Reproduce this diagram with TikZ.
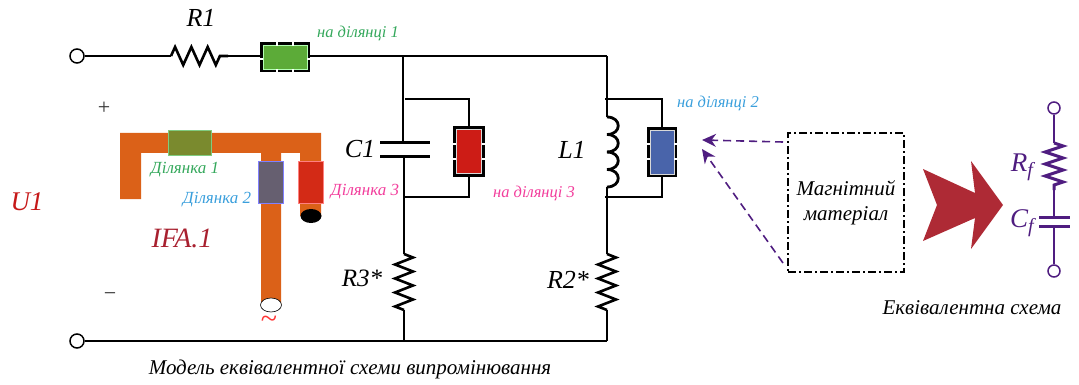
\documentclass[tikz,border=0pt]{standalone}
\usepackage{fontspec}
\setmainfont{Liberation Serif}
\usetikzlibrary{arrows.meta,decorations.pathmorphing,shapes.geometric}
\definecolor{antorange}{HTML}{DB6118}
\definecolor{grnlab}{HTML}{35A85C}
\definecolor{blulab}{HTML}{3A9FDC}
\definecolor{pnklab}{HTML}{F23E9C}
\definecolor{darkred}{HTML}{A8202F}
\definecolor{arrowred}{HTML}{AE2A35}
\definecolor{violetline}{HTML}{4F1D80}
\def\fsz#1{\fontsize{#1}{#1}\selectfont\itshape}
\tikzset{
	wire/.style={line width=1.5pt},
	term/.style={circle, draw, line width=1.5pt, fill=white, minimum size=14pt, inner sep=0pt},
	zig/.style={line width=2.6pt, decorate, decoration={zigzag, segment length=#1, amplitude=9pt}},
	plate/.style={line width=3pt},
	frame/.style={draw=black, fill=white, line width=3pt, inner sep=0pt},
	gap/.style={white, line width=1.3pt},
	lab/.style={inner sep=0pt, font=\fsz{#1}},
	dasharrow/.style={violetline, line width=1.6pt, dash pattern=on 8pt off 5pt, -{Stealth[length=14pt,width=13pt]}},
}
\begin{document}
\begin{tikzpicture}[x=1pt, y=-1pt]
		%%%%% START %%%%%
		\useasboundingbox (0, 0) rectangle (1079, 385);
		
		% antenna
		\fill[antorange] (120, 133) -- (321, 133) -- (321, 216) -- (300, 216) -- (300, 153) -- (281, 153) -- (281, 305) -- (261, 305) -- (261, 153) -- (141, 153) -- (141, 199) -- (120, 199) -- cycle;
		\node[draw=black, fill=white, ellipse, line width=0.6pt, minimum width=21pt, minimum height=14pt, inner sep=0pt] (feed) at (271, 305) {};
		\node[fill=black, ellipse, minimum width=21pt, minimum height=14pt, inner sep=0pt] (shortpin) at (311, 216) {};
		\fill[draw=green!60!black!50, line width=0.8pt, fill={rgb,255:red,122;green,138;blue,46}] (168, 130.5) rectangle (211, 155);
		\fill[draw=blue!50!white, line width=0.8pt, fill={rgb,255:red,102;green,95;blue,112}] (258.5, 161) rectangle (283, 203);
		\fill[draw=red!50!white, line width=0.8pt, fill={rgb,255:red,211;green,42;blue,22}] (298.5, 161) rectangle (323, 203);
		
		\node[lab=17, text=grnlab] (sec1) at (185, 170) {Ділянка 1};
		\node[lab=17, text=blulab] (sec2) at (217, 199.5) {Ділянка 2};
		\node[lab=17, text=pnklab] (sec3) at (365, 192) {Ділянка 3};
		\node[lab=28, text=darkred] (ifa) at (182, 238) {IFA.1};
		\node[lab=27, text=red!75!black!90] (uone) at (27, 202) {U1};
		\node[inner sep=0pt, font=\fsz{22}\upshape, text=black!80] (plus) at (104, 108) {+};
		\node[inner sep=0pt, font=\fsz{22}\upshape, text=black!80] (minus) at (110, 297) {−};
		\node[inner sep=0pt, font=\fsz{30}\upshape, text=red!80] (tilde) at (269, 322) {\textasciitilde};
		
		% main circuit
		\node[term] (inA) at (77, 56) {};
		\node[term] (inB) at (77, 341) {};
		\coordinate (ronea) at (171, 56);
		\coordinate (roneb) at (228, 56);
		\coordinate (topC) at (403, 56);
		\coordinate (topL) at (607, 56);
		\coordinate (botC) at (404, 341);
		\coordinate (botL) at (607, 341);
		
		\node[frame, minimum width=47pt, minimum height=27pt] (boxG) at (285, 57.5) {};
		\node[frame, minimum width=29pt, minimum height=47pt] (boxR) at (469, 151.5) {};
		\node[frame, minimum width=27pt, minimum height=47pt] (boxB) at (662, 152) {};
		\node[inner sep=0pt, fill={rgb,255:red,92;green,171;blue,56}, draw=white!70!green, line width=0.6pt, minimum width=44pt, minimum height=24pt] (patchG) at (boxG) {};
		\node[inner sep=0pt, fill={rgb,255:red,205;green,28;blue,22}, draw=white!70!gray, line width=0.6pt, minimum width=25pt, minimum height=44pt] (patchR) at (boxR) {};
		\node[inner sep=0pt, fill={rgb,255:red,73;green,100;blue,170}, draw=white!70!gray, line width=0.6pt, minimum width=24pt, minimum height=44pt] (patchB) at (boxB) {};
		\foreach \x in {277, 293} {
			\draw[gap] (\x, 41) -- (\x, 46);
			\draw[gap] (\x, 69) -- (\x, 74);
		}
		\foreach \y in {144, 159} {
			\draw[gap] (451, \y) -- (456, \y);
			\draw[gap] (482, \y) -- (487, \y);
			\draw[gap] (645, \y) -- (650, \y);
			\draw[gap] (674, \y) -- (679, \y);
		}
		\draw[gap] (258, 59) -- (263, 59);
		\draw[gap] (307, 59) -- (312, 59);
		
		\draw[wire] (inA) -- (ronea);
		\draw[zig=16.3pt] (ronea) -- (roneb);
		\draw[wire] (roneb) -- (roneb -| boxG.west);
		\draw[wire] (topC -| boxG.east) -- (topC) -- (topL);
		\draw[wire] (inB) -- (botC) -- (botL);
		
		% C1 branch
		\coordinate (cplA) at (403, 143);
		\coordinate (cplB) at (404, 157);
		\coordinate (rthreea) at (404, 254);
		\coordinate (rthreeb) at (404, 310);
		\coordinate (tapCa) at (405, 99);
		\coordinate (tapCb) at (404, 197);
		\draw[wire] (topC) -- (cplA);
		\draw[plate] (380, 143) -- (430, 143);
		\draw[plate] (380, 157) -- (430, 157);
		\draw[wire] (cplB) -- (rthreea);
		\draw[zig=14pt] (rthreea) -- (rthreeb);
		\draw[wire] (rthreeb) -- (botC);
		\draw[wire] (tapCa) -| (boxR);
		\draw[wire] (tapCb) -| (boxR);
		
		% L1 branch
		\coordinate (lonea) at (607, 117);
		\coordinate (loneb) at (607, 187);
		\coordinate (rtwoa) at (607, 254);
		\coordinate (rtwob) at (607, 310);
		\coordinate (tapLa) at (605, 99);
		\coordinate (tapLb) at (605, 197);
		\draw[wire] (topL) -- (lonea);
		\foreach \y in {117, 134.5, 152, 169.5} {
			\draw[line width=2.8pt] (607, \y) .. controls (622, \y) and (622, {\y+17.5}) .. (607, {\y+17.5});
		}
		\draw[wire] (loneb) -- (rtwoa);
		\draw[zig=14pt] (rtwoa) -- (rtwob);
		\draw[wire] (rtwob) -- (botL);
		\draw[wire] (tapLa) -| (boxB);
		\draw[wire] (tapLb) -| (boxB);
		
		\node[lab=26] (rone) at (201, 18) {R1};
		\node[lab=26] (cone) at (360, 149) {C1};
		\node[lab=26] (lone) at (572, 150) {L1};
		\node[lab=25] (rthree) at (362, 278) {R3*};
		\node[lab=26] (rtwo) at (568, 280) {R2*};
		\node[lab=16.5, text=grnlab] (onsecA) at (358, 33) {на ділянці 1};
		\node[lab=16.5, text=blulab] (onsecB) at (718, 103) {на ділянці 2};
		\node[lab=16.5, text=pnklab] (onsecC) at (534, 193) {на ділянці 3};
		\node[lab=21] (capmodel) at (350, 369) {Модель еквівалентної схеми випромінювання};
		
		% magnetic material
		\node[draw=black, line width=1.6pt, dash pattern=on 8pt off 3pt on 2pt off 3pt, minimum width=116pt, minimum height=139pt, inner sep=0pt, align=center, font=\fsz{21}] (magnet) at (846, 202.5) {Магнітний\\[4pt]матеріал};
		\coordinate (fromA) at (783, 142);
		\coordinate (fromB) at (783, 263);
		\coordinate (tipA) at (702, 140);
		\coordinate (tipB) at (702, 149);
		\draw[dasharrow] (fromA) -- (tipA);
		\draw[dasharrow] (fromB) -- (tipB);
		
		\fill[arrowred] (923, 169) -- (975, 193) -- (971, 161) -- (1003, 205) -- (971, 249) -- (975, 218) -- (923, 241) -- (937, 205) -- cycle;
		
		% equivalent circuit
		\node[term, draw=violetline, minimum size=12pt] (eqA) at (1054, 108) {};
		\node[term, draw=violetline, minimum size=12pt] (eqB) at (1054, 271) {};
		\coordinate (rfa) at (1054, 143);
		\coordinate (rfb) at (1054, 190);
		\coordinate (cfa) at (1054, 217);
		\coordinate (cfb) at (1054, 226);
		\draw[wire, violetline] (eqA) -- (rfa);
		\draw[zig=12pt, violetline, line width=3pt] (rfa) -- (rfb);
		\draw[wire, violetline] (rfb) -- (cfa);
		\draw[wire, violetline] (cfb) -- (eqB);
		\draw[plate, violetline] (1039, 217) -- (1070, 217);
		\draw[plate, violetline] (1039, 226) -- (1070, 226);
		\node[lab=27, text=violetline] (rflab) at (1022, 167) {R\raisebox{-5pt}{\fsz{20}f}};
		\node[lab=27, text=violetline] (cflab) at (1022, 223) {C\raisebox{-5pt}{\fsz{20}f}};
		\node[lab=21] (eqcap) at (972, 308) {Еквівалентна схема};
		
		%%%%% END %%%%%
	\end{tikzpicture}
\end{document}
